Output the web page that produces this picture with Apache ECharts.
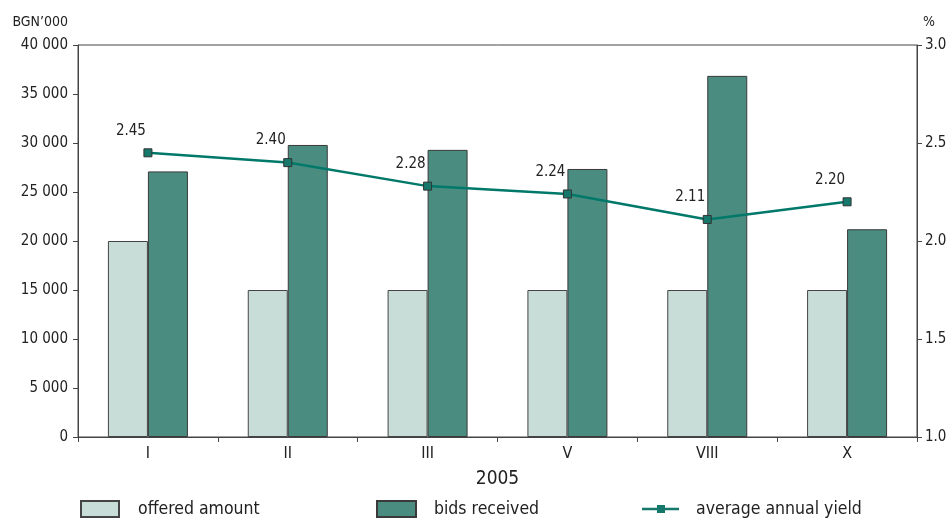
<!DOCTYPE html>
<html>
<head>
<meta charset="utf-8">
<script src="https://cdn.jsdelivr.net/npm/echarts@6/dist/echarts.min.js"></script>
<style>
html,body{margin:0;padding:0;background:#fff;}
#chart{width:952px;height:522px;}
</style>
</head>
<body>
<div id="chart"></div>
<script>
// Auctions in 2005: amounts in BGN'000 and yields in %
var months = ['I', 'II', 'III', 'V', 'VIII', 'X'];
var offeredAmount = [20000, 15000, 15000, 15000, 15000, 15000];
var bidsReceived = [27100, 29800, 29300, 27350, 36850, 21200];
var avgAnnualYield = [2.45, 2.40, 2.28, 2.24, 2.11, 2.20];
var leftTicks = [0, 40000, 5000];
var rightTicks = [1.0, 3.0, 0.5];

var FONT = "'Liberation Sans Narrow', 'DejaVu Sans Condensed', 'Liberation Sans', sans-serif";
var TXT = '#222';

function thousands(v) {
  return String(v).replace(/\B(?=(\d{3})+(?!\d))/g, ' ');
}

var legendText = { fontFamily: FONT, fontSize: 17.5, color: TXT };

var chart = echarts.init(document.getElementById('chart'));
chart.setOption({
  animation: false,
  textStyle: { fontFamily: FONT, color: TXT },
  grid: {
    left: 78, right: 35, top: 45, bottom: 85,
    show: true, borderColor: '#444', borderWidth: 1, backgroundColor: 'transparent'
  },
  legend: [
    {
      data: ['offered amount'], left: 80, top: 500, padding: 0, itemWidth: 38, itemHeight: 16,
      textStyle: Object.assign({ padding: [0, 0, 0, 14] }, legendText),
      icon: 'rect'
    },
    {
      data: ['bids received'], left: 376, top: 500, padding: 0, itemWidth: 39, itemHeight: 16,
      textStyle: Object.assign({ padding: [0, 0, 0, 13] }, legendText),
      icon: 'rect'
    },
    {
      data: ['average annual yield'], left: 642, top: 500, padding: 0, itemWidth: 37, itemHeight: 16,
      itemStyle: { borderWidth: 0 },
      textStyle: Object.assign({ padding: [0, 0, 0, 12] }, legendText),
      icon: 'path://M0,6.8H15V4H23V6.8H37V9.2H23V12H15V9.2H0Z'
    }
  ],
  xAxis: {
    type: 'category',
    data: months,
    name: '2005',
    nameLocation: 'middle',
    nameGap: 33,
    nameTextStyle: { fontFamily: FONT, fontSize: 19, color: TXT },
    axisLine: { lineStyle: { color: '#444', width: 1 } },
    axisTick: { show: true, alignWithLabel: false, length: 5, lineStyle: { color: '#444' } },
    axisLabel: { fontFamily: FONT, fontSize: 16, color: TXT, margin: 9 }
  },
  yAxis: [
    {
      type: 'value',
      min: leftTicks[0], max: leftTicks[1], interval: leftTicks[2],
      name: "BGN’000",
      nameLocation: 'end',
      nameGap: 16,
      nameTextStyle: { fontFamily: FONT, fontSize: 14, color: TXT, align: 'right', padding: [0, 10, 0, 0] },
      axisLine: { show: true, lineStyle: { color: '#444' } },
      axisTick: { show: true, length: 5, lineStyle: { color: '#444' } },
      splitLine: { show: false },
      axisLabel: { fontFamily: FONT, fontSize: 15, color: TXT, margin: 10, formatter: thousands }
    },
    {
      type: 'value',
      min: rightTicks[0], max: rightTicks[1], interval: rightTicks[2],
      position: 'right',
      name: '%',
      nameLocation: 'end',
      nameGap: 16,
      nameTextStyle: { fontFamily: FONT, fontSize: 14, color: TXT, align: 'left', padding: [0, 0, 0, 6] },
      axisLine: { show: true, lineStyle: { color: '#444' } },
      axisTick: { show: true, length: 5, lineStyle: { color: '#444' } },
      splitLine: { show: false },
      axisLabel: { fontFamily: FONT, fontSize: 15, color: TXT, margin: 8, formatter: function (v) { return v.toFixed(1); } }
    }
  ],
  series: [
    {
      name: 'offered amount',
      type: 'bar',
      data: offeredAmount,
      barWidth: 40,
      barGap: '0%',
      itemStyle: { color: '#c8ddd7', borderColor: '#444', borderWidth: 1 }
    },
    {
      name: 'bids received',
      type: 'bar',
      data: bidsReceived,
      barWidth: 40,
      barGap: '0%',
      itemStyle: { color: '#4a8d80', borderColor: '#3a3a3a', borderWidth: 1 }
    },
    {
      name: 'average annual yield',
      type: 'line',
      yAxisIndex: 1,
      data: avgAnnualYield,
      symbol: 'rect',
      symbolSize: 8,
      lineStyle: { color: '#00786a', width: 2.5 },
      itemStyle: { color: '#15786a', borderColor: '#333', borderWidth: 1 },
      label: {
        show: true,
        position: 'top',
        distance: 6,
        offset: [-17, -4],
        fontFamily: FONT,
        fontSize: 15,
        color: TXT,
        formatter: function (p) { return p.value.toFixed(2); }
      },
      z: 5
    }
  ]
});
</script>
</body>
</html>
